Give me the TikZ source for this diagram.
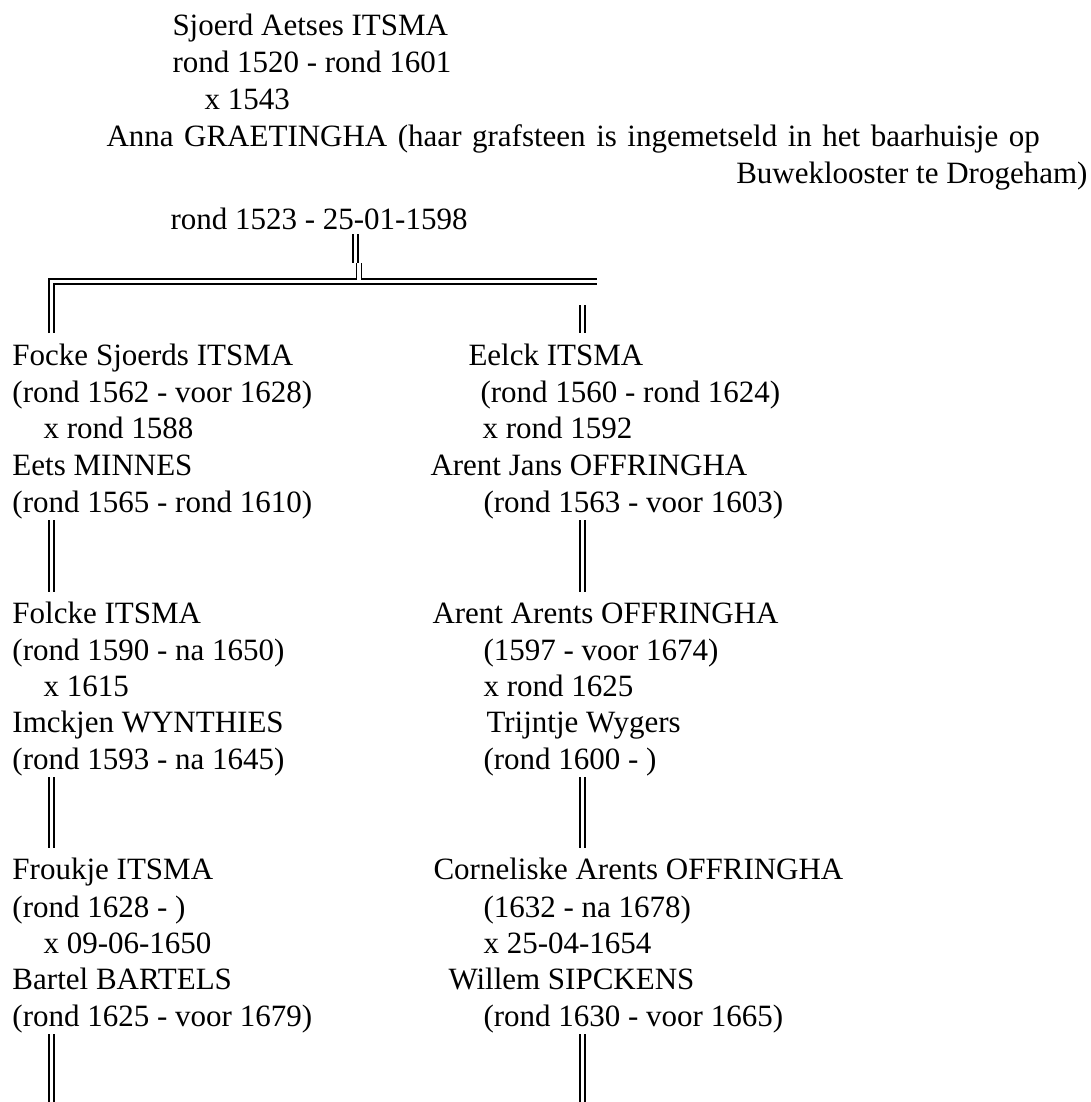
\documentclass[tikz,border=0pt]{standalone}
\usepackage{fontspec}
\setmainfont{Liberation Serif}

\begin{document}
\begin{tikzpicture}[x=0.4pt,y=-0.4pt]

    %
    % Styles for entries, and descent lines
    %
    \tikzstyle{entry} = [inner sep=0pt, anchor=base west, font=\fontsize{12.4}{15}\selectfont]
    \tikzstyle{descent} = [draw=black, line width=0.64pt, double=white, double distance=1.36pt]

    \useasboundingbox (0,0) rectangle (1091,1102);

    %
    % Position the parents
    %
    \node[entry] (sjoerd) at (172,35) {Sjoerd Aetses ITSMA};
    \node[entry] (sjoerdDates) at (172,72) {rond 1520 - rond 1601};
    \node[entry] (parentsMarriage) at (204,109) {x 1543};
    \node[entry] (anna) at (106,146)
      {\spaceskip=0.34em Anna GRAETINGHA (haar grafsteen is ingemetseld in het baarhuisje op};
    \node[entry, anchor=base east] (annaNote) at (1088,183) {Buweklooster te Drogeham)};
    \node[entry] (annaDates) at (170,229) {rond 1523 - 25-01-1598};

    %
    % Position the Itsma line (left)
    %
    \node[entry] (focke) at (12,365) {Focke Sjoerds ITSMA};
    \node[entry] (fockeDates) at (12,402) {(rond 1562 - voor 1628)};
    \node[entry] (fockeMarriage) at (43,438) {x rond 1588};
    \node[entry] (eets) at (12,475) {Eets MINNES};
    \node[entry] (eetsDates) at (12,512) {(rond 1565 - rond 1610)};

    \node[entry] (folcke) at (12,623) {Folcke ITSMA};
    \node[entry] (folckeDates) at (12,660) {(rond 1590 - na 1650)};
    \node[entry] (folckeMarriage) at (43,696) {x 1615};
    \node[entry] (imckjen) at (12,732) {Imckjen WYNTHIES};
    \node[entry] (imckjenDates) at (12,769) {(rond 1593 - na 1645)};

    \node[entry] (froukje) at (12,879) {Froukje ITSMA};
    \node[entry] (froukjeDates) at (12,917) {(rond 1628 - )};
    \node[entry] (froukjeMarriage) at (43,953) {x 09-06-1650};
    \node[entry] (bartel) at (12,989) {Bartel BARTELS};
    \node[entry] (bartelDates) at (12,1026) {(rond 1625 - voor 1679)};

    %
    % Position the Offringha line (right)
    %
    \node[entry] (eelck) at (468,365) {Eelck ITSMA};
    \node[entry] (eelckDates) at (480,402) {(rond 1560 - rond 1624)};
    \node[entry] (eelckMarriage) at (482,438) {x rond 1592};
    \node[entry] (arentJans) at (430,475) {Arent Jans OFFRINGHA};
    \node[entry] (arentJansDates) at (483,512) {(rond 1563 - voor 1603)};

    \node[entry] (arentArents) at (432,623) {Arent Arents OFFRINGHA};
    \node[entry] (arentArentsDates) at (483,660) {(1597 - voor 1674)};
    \node[entry] (arentArentsMarriage) at (483,696) {x rond 1625};
    \node[entry] (trijntje) at (486,732) {Trijntje Wygers};
    \node[entry] (trijntjeDates) at (483,769) {(rond 1600 - )};

    \node[entry] (corneliske) at (433,879) {Corneliske Arents OFFRINGHA};
    \node[entry] (cornelisDates) at (483,917) {(1632 - na 1678)};
    \node[entry] (cornelisMarriage) at (483,953) {x 25-04-1654};
    \node[entry] (willem) at (448,989) {Willem SIPCKENS};
    \node[entry] (willemDates) at (483,1026) {(rond 1630 - voor 1665)};

    %
    % Line ends
    %
    \coordinate (parentsDown) at (355.75,234);
    \coordinate (jogUpper) at (355.75,263);
    \coordinate (jogLower) at (359,263);
    \coordinate (forkJoin) at (359,279.8);
    \coordinate (forkEnd) at (597,281.5);
    \coordinate (fockeUp) at (51.75,333);
    \coordinate (eelckTop) at (582.25,305);
    \coordinate (eelckUp) at (582.25,333);

    \coordinate (eetsDown) at (51.75,520);
    \coordinate (folckeUp) at (51.75,592);
    \coordinate (imckjenDown) at (51.75,777);
    \coordinate (froukjeUp) at (51.75,848);
    \coordinate (bartelDown) at (51.75,1034);
    \coordinate (bartelEnd) at (51.75,1102);

    \coordinate (arentJansDown) at (582.25,520);
    \coordinate (arentArentsUp) at (582.25,592);
    \coordinate (trijntjeDown) at (582.25,777);
    \coordinate (cornelisUp) at (582.25,848);
    \coordinate (willemDown) at (582.25,1034);
    \coordinate (willemEnd) at (582.25,1102);

    %
    % Connect generations via descent lines
    %
    \draw[descent] (fockeUp) |- (forkEnd);
    \draw[descent] (parentsDown) -- (jogUpper);
    \draw[descent] (jogLower) -- (forkJoin);
    \draw[descent] (eelckTop) -- (eelckUp);

    \draw[descent] (eetsDown) -- (folckeUp);
    \draw[descent] (imckjenDown) -- (froukjeUp);
    \draw[descent] (bartelDown) -- (bartelEnd);

    \draw[descent] (arentJansDown) -- (arentArentsUp);
    \draw[descent] (trijntjeDown) -- (cornelisUp);
    \draw[descent] (willemDown) -- (willemEnd);
\end{tikzpicture}
\end{document}
